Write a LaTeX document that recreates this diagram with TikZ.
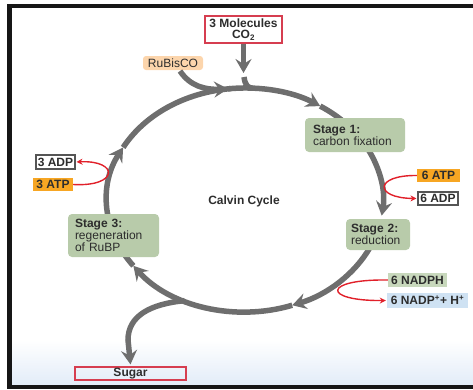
\documentclass[tikz,border=0pt]{standalone}
\usepackage{fontspec}
\setmainfont{Liberation Sans}
\usetikzlibrary{arrows.meta}
\definecolor{cyc}{RGB}{110,110,110}
\definecolor{stg}{RGB}{184,203,170}
\definecolor{nadphg}{RGB}{200,216,188}
\definecolor{atpor}{RGB}{247,166,35}
\definecolor{nadpbl}{RGB}{207,226,243}
\definecolor{peach}{RGB}{252,213,172}
\definecolor{boxred}{RGB}{214,62,80}
\definecolor{arrred}{RGB}{225,32,42}
\definecolor{txt}{RGB}{45,45,45}
\definecolor{adpgray}{RGB}{85,85,85}
\definecolor{bgblue}{RGB}{226,236,248}
\definecolor{frame}{RGB}{22,22,22}
\tikzset{
  lbl/.style={font=\fontsize{12}{12}\selectfont, text=txt, inner sep=0pt, align=center},
  stagebox/.style={lbl, fill=stg, rounded corners=4pt, align=left, inner ysep=0pt},
  tagbox/.style={lbl, font=\fontsize{12}{12}\selectfont\bfseries},
  cycarrow/.style={draw=cyc, line width=5.5pt},
  cyctip/.style={cycarrow, -{Stealth[length=14pt,width=16pt,inset=5pt]}},
  redarr/.style={draw=arrred, line width=1.4pt, -{Stealth[length=6pt,width=6pt]}, shorten >=1pt}
}
\begin{document}
\begin{tikzpicture}[x=1pt,y=-1pt]
\useasboundingbox (0,0) rectangle (473,389);
% background gradient and frame
\shade[top color=white, bottom color=bgblue] (12,340) rectangle (473,385);
\fill[frame] (7,4) rectangle (473,8);
\fill[frame] (7,4) rectangle (12,389);
\fill[frame] (7,385) rectangle (473,389);

% points on the cycle
\foreach \n/\a in {a/-97, b/-57, c/-30, d/8, e/25, f/70, g/144, h/208, k/-87, s/116}
  \coordinate (e\n) at ({245+138*cos(\a)},{200+112*sin(\a)});

% cycle arcs
\draw[cycarrow] (eh) arc[start angle=208, end angle=264, x radius=138, y radius=112];
\draw[cyctip] (ea) arc[start angle=-97, end angle=-57, x radius=138, y radius=112];
\draw[cycarrow] (eb) arc[start angle=-57, end angle=-30, x radius=138, y radius=112];
\draw[cyctip] (ec) arc[start angle=-30, end angle=8, x radius=138, y radius=112];
\draw[cyctip] (ee) arc[start angle=25, end angle=70, x radius=138, y radius=112];
\draw[cyctip] (ef) arc[start angle=70, end angle=144, x radius=138, y radius=112];
\draw[cyctip] (eg) arc[start angle=144, end angle=208, x radius=138, y radius=112];

% labels
\node[tagbox, draw=boxred, line width=1.2pt, fill=white, minimum width=77pt, minimum height=27pt] (co2) at (243.5,29.5) {3 Molecules\\[-1pt]CO\textsubscript{2}};
\node[lbl, fill=peach, rounded corners=3pt, minimum width=60pt, minimum height=14pt] (rub) at (173,63) {RuBisCO};
\node[tagbox, draw=adpgray, line width=1.1pt, fill=white, minimum width=39pt, minimum height=14pt] (adp3) at (55.5,162) {3 ADP};
\node[tagbox, fill=atpor, minimum width=40pt, minimum height=13pt] (atp3) at (53,184.5) {3 ATP};
\node[tagbox, fill=atpor, minimum width=43pt, minimum height=13pt] (atp6) at (438.5,175.5) {6 ATP};
\node[tagbox, draw=adpgray, line width=1.1pt, fill=white, minimum width=40pt, minimum height=13pt] (adp6) at (438,198.5) {6 ADP};
\node[tagbox, fill=nadphg, minimum width=59pt, minimum height=14pt] (nadph) at (417.5,280) {6 NADPH};
\node[tagbox, fill=nadpbl, minimum width=81pt, minimum height=15pt] (nadp) at (427.5,300.5) {6 NADP\textsuperscript{+}+ H\textsuperscript{+}};
\node[tagbox, draw=boxred, line width=1.2pt, minimum width=111pt, minimum height=13pt] (sugar) at (130.5,373.5) {Sugar};

\node[stagebox, inner xsep=8pt, text width=84pt, minimum height=34pt] (s1) at (355,135) {\textbf{Stage 1:}\\carbon fixation};
\node[stagebox, inner xsep=5pt, text width=54pt, minimum height=31pt] (s2) at (378,234.5) {\textbf{Stage 2:}\\reduction};
\node[stagebox, inner xsep=7pt, text width=77pt, minimum height=43pt] (s3) at (113.5,235.5) {\textbf{Stage 3:}\\regeneration\\of RuBP};
\node[tagbox] (calvin) at (244,201) {Calvin Cycle};

% inputs / outputs
\coordinate (co2tip) at (243.5,73);
\coordinate (co2in) at (244,77);
\coordinate (rubout) at (180,71);
\draw[cyctip] (co2.south) -- (co2tip);
\draw[cycarrow] (co2in) .. controls (245,85) and (248,88) .. (ek);
\draw[cyctip] (rubout) .. controls (190,86) and (205,90) .. (ea);
\draw[cyctip] (es) .. controls (150,304) and (128,316) .. (128,340) -- ([yshift=2pt]sugar.north);

% red side arrows
\draw[redarr] (atp3.east) .. controls (119,187) and (119,160) .. (adp3.east);
\draw[redarr] (atp6.west) .. controls (374,175) and (374,198) .. (adp6.west);
\draw[redarr] (nadph.west) .. controls (322,279) and (322,301) .. (nadp.west);
\end{tikzpicture}
\end{document}
